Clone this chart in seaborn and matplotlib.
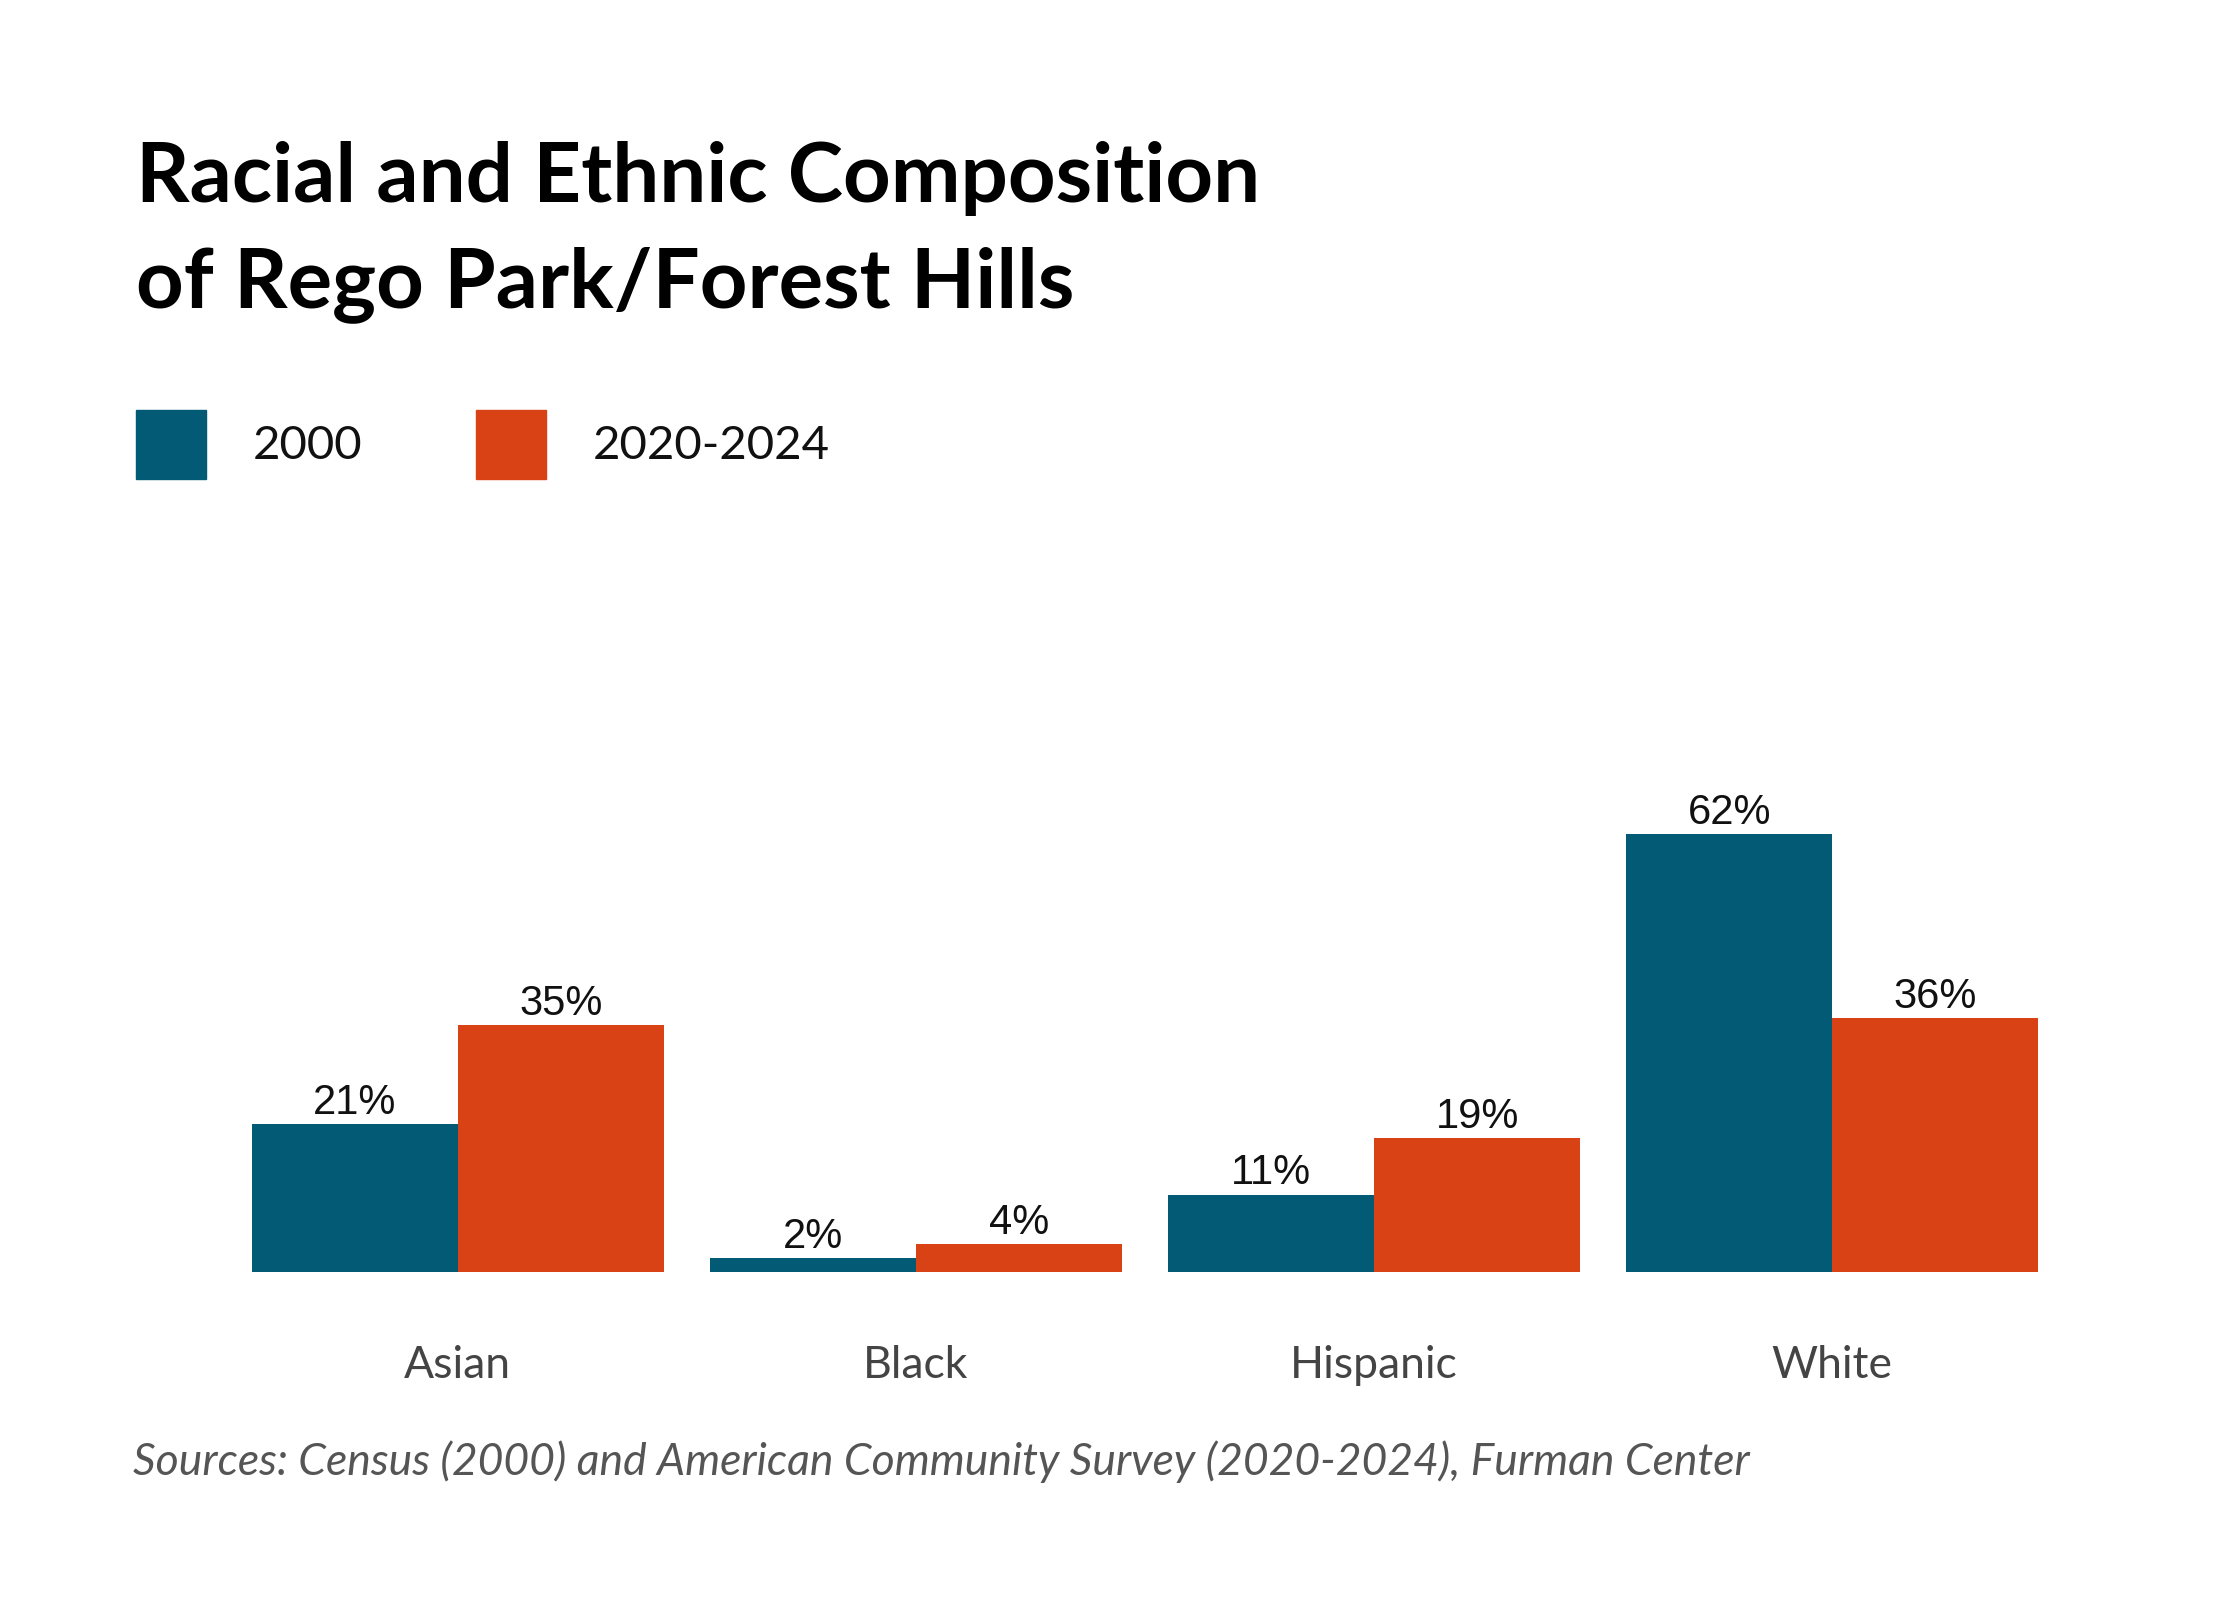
import matplotlib
matplotlib.use("Agg")
import matplotlib.pyplot as plt
import seaborn as sns
import pandas as pd
from matplotlib.patches import Rectangle

categories = ["Asian", "Black", "Hispanic", "White"]
series_names = ["2000", "2020-2024"]
values_2000 = [21, 2, 11, 62]
values_2020 = [35, 4, 19, 36]
colors = ["#025a74", "#d84214"]

df = pd.DataFrame({
    "cat": categories * 2,
    "year": [series_names[0]] * 4 + [series_names[1]] * 4,
    "val": values_2000 + values_2020,
})

sns.set_theme(style="white")
plt.rcParams['font.family'] = ['Liberation Sans', 'DejaVu Sans']

W, H = 1567, 1109
fig = plt.figure(figsize=(22.4, 16), dpi=100)
ax = fig.add_axes([160 / W, 1 - 882 / H, (1442 - 160) / W, (882 - 539) / H])
sns.barplot(data=df, x="cat", y="val", hue="year", palette=colors, width=0.9,
            ax=ax, legend=False, saturation=1, errorbar=None, linewidth=0)
ax.set_ylim(0, 70)
ax.set_xlim(-0.5, 3.5)
for c in ax.containers:
    ax.bar_label(c, labels=[f"{v:.0f}%" for v in c.datavalues], padding=1, fontsize=30, color="#111111")
ax.set_xlabel("")
ax.set_ylabel("")
ax.set_yticks([])
ax.tick_params(axis="x", length=0, pad=52, labelsize=32, labelcolor="#444444")
for t in ax.get_xticklabels():
    t.set_fontfamily("Lato")
for s in ax.spines.values():
    s.set_visible(False)

fig.text(95 / W, 1 - 140 / H, "Racial and Ethnic Composition", fontsize=60, fontweight="bold",
         fontfamily="Lato", color="#000000", va="baseline")
fig.text(95 / W, 1 - 213 / H, "of Rego Park/Forest Hills", fontsize=60, fontweight="bold",
         fontfamily="Lato", color="#000000", va="baseline")

for x0, xt, name, col in [(95, 177, series_names[0], colors[0]), (333, 415, series_names[1], colors[1])]:
    fig.patches.append(Rectangle((x0 / W, 1 - 332 / H), 49 / W, 48 / H, transform=fig.transFigure,
                                 color=col, figure=fig))
    fig.text(xt / W, 1 - 309 / H, name, fontsize=34, fontfamily="Lato", color="#111111", va="center")

fig.text(93 / W, 1 - 1013 / H,
         "Sources: Census (2000) and American Community Survey (2020-2024), Furman Center",
         fontsize=32, fontstyle="italic", fontfamily="Lato", color="#555555", va="center")

fig.savefig("out.png", dpi=100, facecolor="white")
